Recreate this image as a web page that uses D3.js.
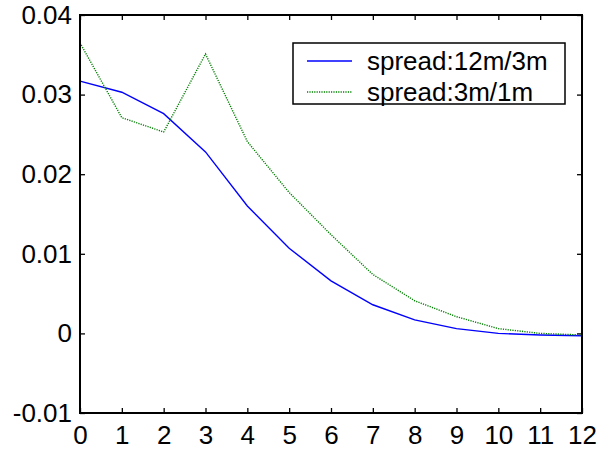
<!DOCTYPE html>
<html>
<head>
<meta charset="utf-8">
<script src="https://cdn.jsdelivr.net/npm/d3@7"></script>
<style>
  html, body { margin: 0; padding: 0; background: #fff; }
  svg { display: block; font-family: "Liberation Sans", Arial, sans-serif; }
</style>
</head>
<body>
<svg id="chart" width="610" height="451"></svg>
<script>
// Chart data
const horizons = [0, 1, 2, 3, 4, 5, 6, 7, 8, 9, 10, 11, 12];
const spread12m3m = [0.0317, 0.0303, 0.0276, 0.0228, 0.0160, 0.0107, 0.0066, 0.0036, 0.0017, 0.0006, 0.0000, -0.0002, -0.0003];
const spread3m1m = [0.0365, 0.0271, 0.0253, 0.0351, 0.0241, 0.0177, 0.0124, 0.0074, 0.0041, 0.0021, 0.0006, 0.0000, -0.0002];
const seriesNames = ["spread:12m/3m", "spread:3m/1m"];
const yTicks = [-0.01, 0, 0.01, 0.02, 0.03, 0.04];
const yTickLabels = ["-0.01", "0", "0.01", "0.02", "0.03", "0.04"];

const svg = d3.select("#chart");

// Plot box (window.top is reserved, so use a margin object)
const box = { left: 80, right: 582, top: 15, bottom: 413 };

const x = d3.scaleLinear().domain([0, 12]).range([box.left, box.right]);
const y = d3.scaleLinear().domain([-0.01, 0.04]).range([box.bottom, box.top]);

const tickLen = 5;
const fontSize = 26;

// Axes, ticks point inward like MATLAB
const xBottom = d3.axisBottom(x).tickValues(horizons).tickSizeInner(-tickLen).tickSizeOuter(0).tickPadding(13);
const xTop = d3.axisTop(x).tickValues(horizons).tickSizeInner(-tickLen).tickSizeOuter(0).tickFormat("");
const yLeft = d3.axisLeft(y).tickValues(yTicks).tickSizeInner(-tickLen).tickSizeOuter(0).tickPadding(8)
    .tickFormat((d, i) => yTickLabels[i]);
const yRight = d3.axisRight(y).tickValues(yTicks).tickSizeInner(-tickLen).tickSizeOuter(0).tickFormat("");

function styleAxis(g) {
    g.select(".domain").remove();
    g.selectAll(".tick line").attr("stroke", "#000").attr("stroke-width", 1.3);
    g.selectAll(".tick text")
        .attr("fill", "#000")
        .style("font-size", fontSize + "px")
        .style("font-family", "'Liberation Sans', Arial, sans-serif");
}

svg.append("g").attr("transform", `translate(0,${box.bottom})`).call(xBottom).call(styleAxis);
svg.append("g").attr("transform", `translate(0,${box.top})`).call(xTop).call(styleAxis);
svg.append("g").attr("transform", `translate(${box.left},0)`).call(yLeft).call(styleAxis);
svg.append("g").attr("transform", `translate(${box.right},0)`).call(yRight).call(styleAxis);

// Lines
const line = d3.line()
    .x((d, i) => x(horizons[i]))
    .y(d => y(d));

svg.append("path")
    .datum(spread12m3m)
    .attr("fill", "none")
    .attr("stroke", "#0000ff")
    .attr("stroke-width", 1.4)
    .attr("d", line);

svg.append("path")
    .datum(spread3m1m)
    .attr("fill", "none")
    .attr("stroke", "#008000")
    .attr("stroke-width", 1.4)
    .attr("stroke-dasharray", "1.2,1.2")
    .attr("d", line);

// Box frame
svg.append("rect")
    .attr("x", box.left).attr("y", box.top)
    .attr("width", box.right - box.left).attr("height", box.bottom - box.top)
    .attr("fill", "none")
    .attr("stroke", "#000")
    .attr("stroke-width", 2);

// Legend
const legend = svg.append("g");
legend.append("rect")
    .attr("x", 293).attr("y", 43)
    .attr("width", 272).attr("height", 61)
    .attr("fill", "#fff")
    .attr("stroke", "#000")
    .attr("stroke-width", 1.5);

const legendStyles = [
    { color: "#0000ff", dash: null },
    { color: "#008000", dash: "1.2,1.2" }
];

seriesNames.forEach((name, i) => {
    const ly = 61 + i * 31;
    legend.append("line")
        .attr("x1", 307).attr("x2", 352)
        .attr("y1", ly).attr("y2", ly)
        .attr("stroke", legendStyles[i].color)
        .attr("stroke-width", 1.4)
        .attr("stroke-dasharray", legendStyles[i].dash);
    legend.append("text")
        .attr("x", 367)
        .attr("y", ly)
        .attr("dy", "0.35em")
        .style("font-size", fontSize + "px")
        .attr("fill", "#000")
        .text(name);
});
</script>
</body>
</html>
